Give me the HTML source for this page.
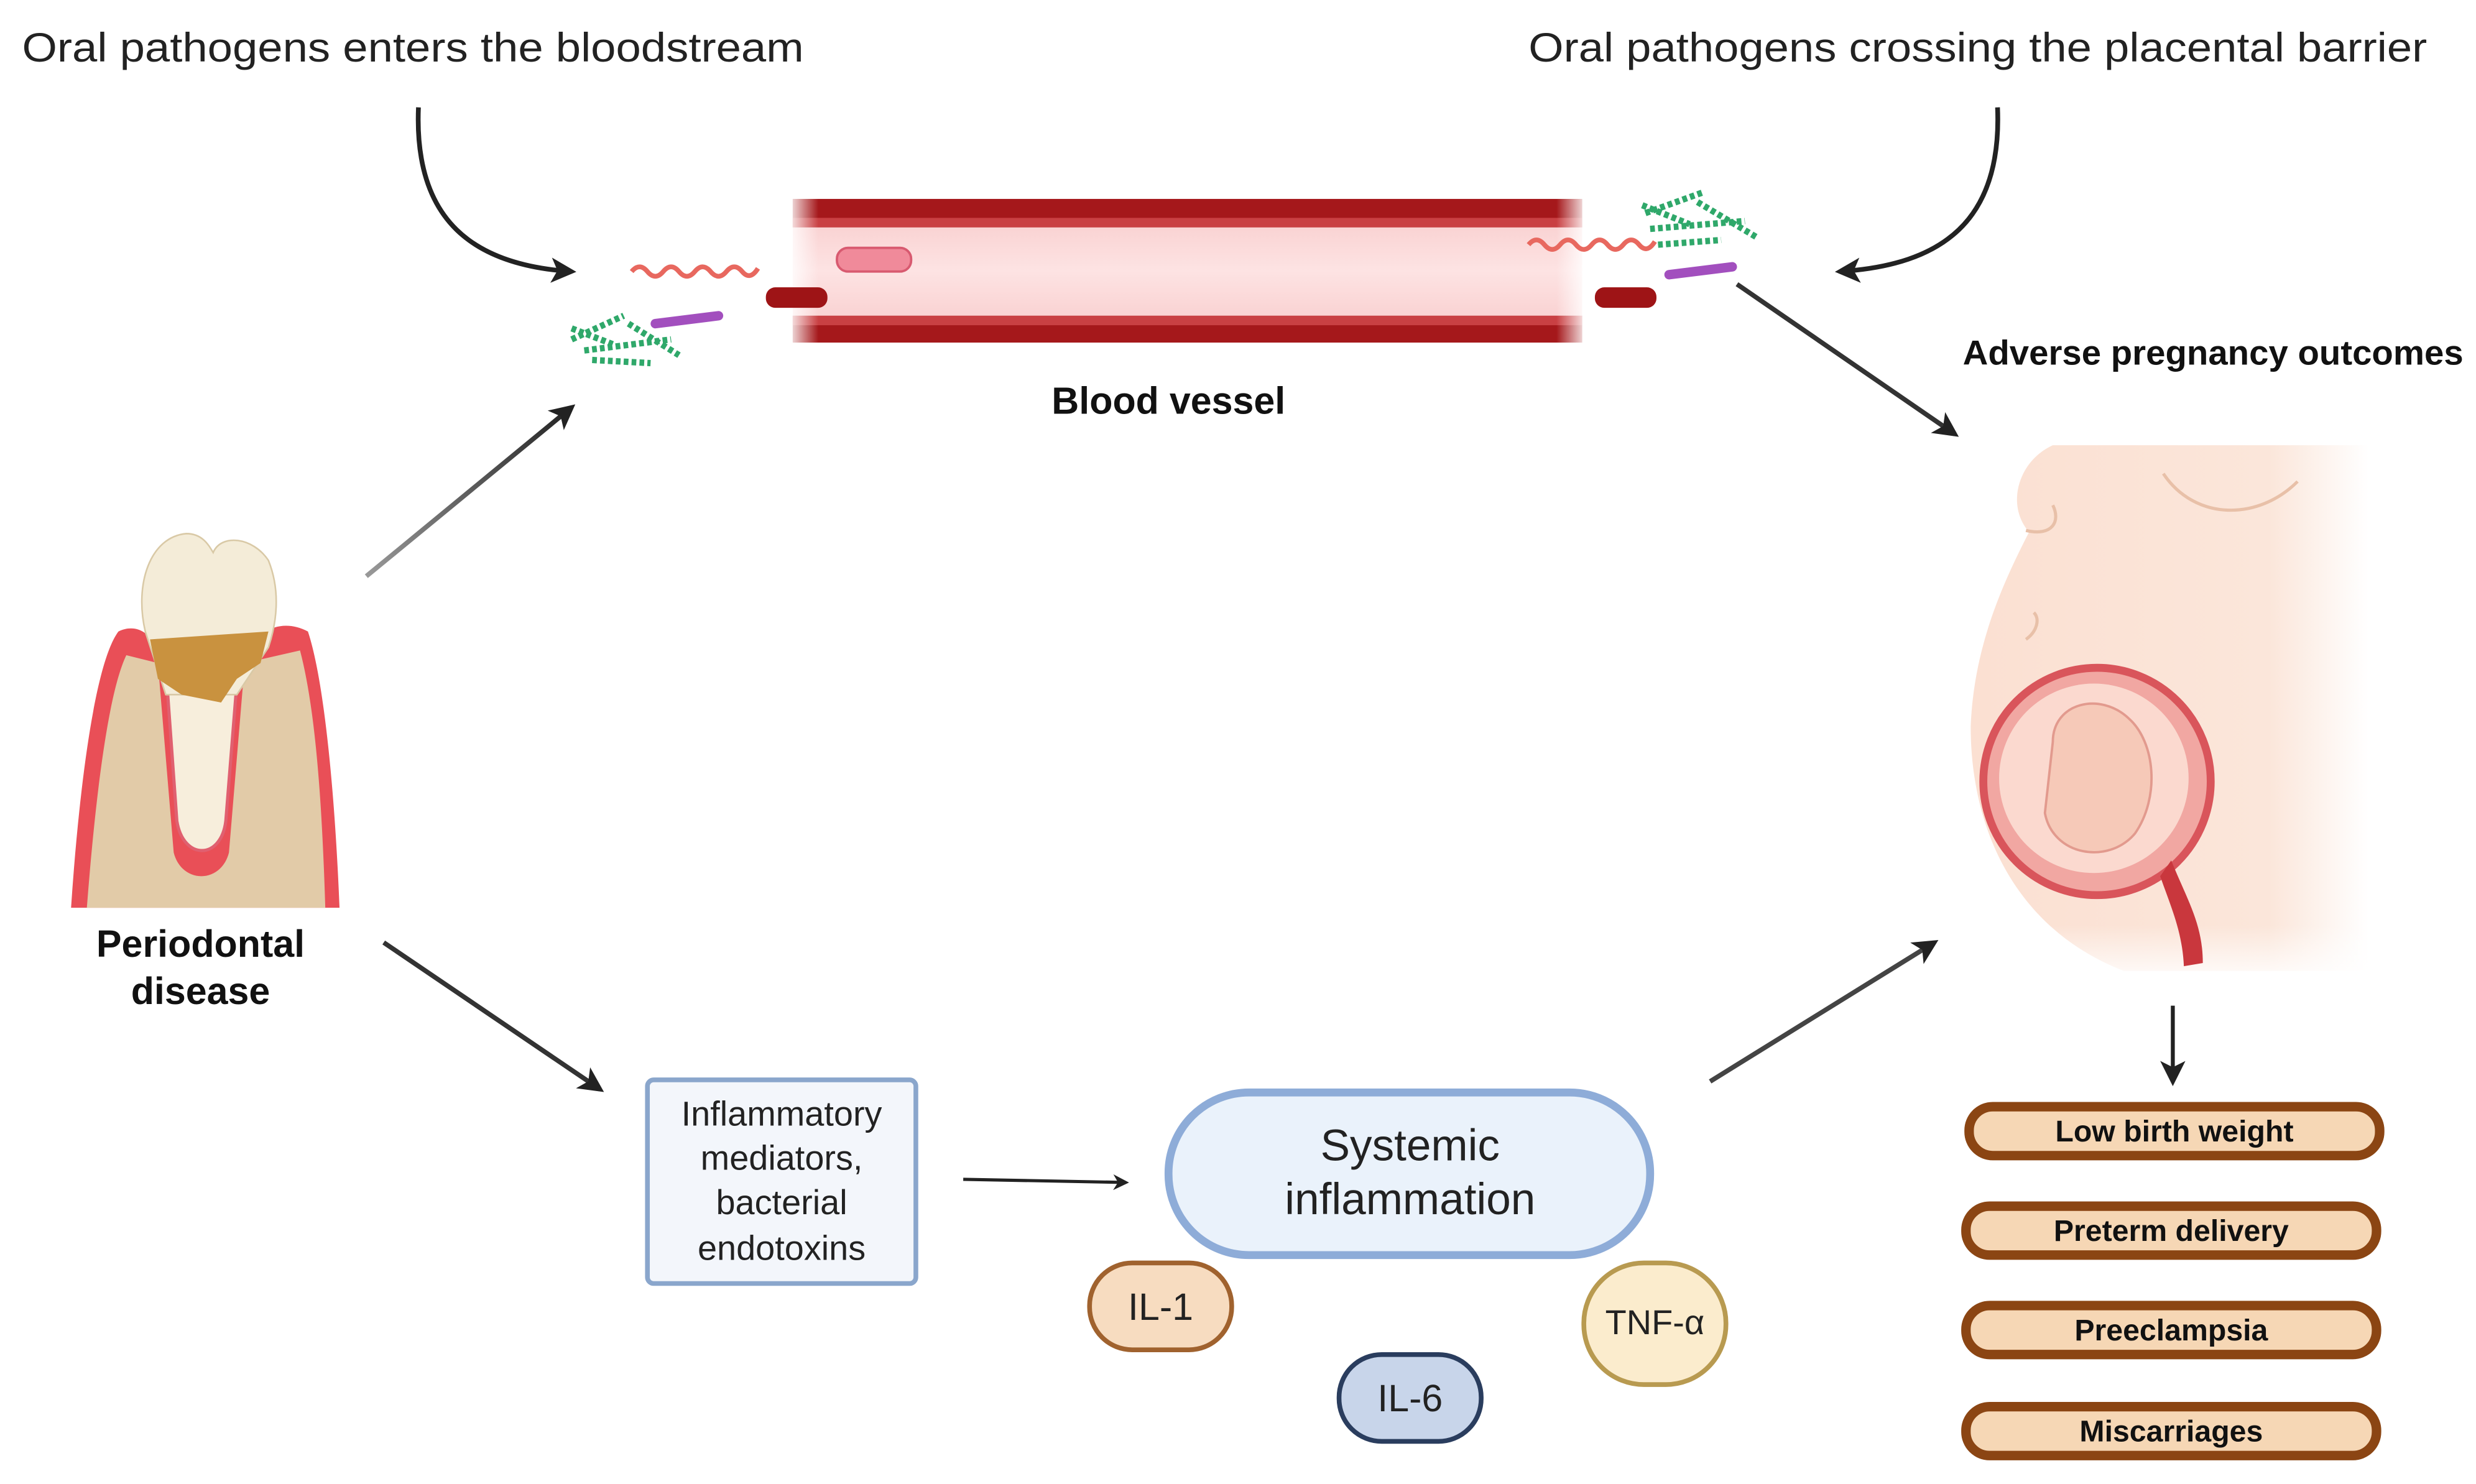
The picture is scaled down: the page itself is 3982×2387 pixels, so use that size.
<!DOCTYPE html>
<html><head><meta charset="utf-8"><style>
html,body{margin:0;padding:0;background:#fff;}
svg{display:block;}
text{font-family:"Liberation Sans",sans-serif;}
</style></head><body>
<svg width="3982" height="2387" viewBox="0 0 1568 940" preserveAspectRatio="none" xmlns="http://www.w3.org/2000/svg">
<defs>
<marker id="ah" markerWidth="10" markerHeight="10" refX="8" refY="5" orient="auto" markerUnits="userSpaceOnUse">
<path d="M0,0 L10,5 L0,10 L3,5 z" fill="#222"/></marker>
<marker id="ah2" markerWidth="16" markerHeight="16" refX="13" refY="8" orient="auto" markerUnits="userSpaceOnUse">
<path d="M0,0 L16,8 L0,16 L4,8 z" fill="#222"/></marker>
<linearGradient id="vfade" x1="0" x2="1">
<stop offset="0" stop-color="#fff" stop-opacity="1"/><stop offset="0.04" stop-color="#fff" stop-opacity="0"/>
<stop offset="0.96" stop-color="#fff" stop-opacity="0"/><stop offset="1" stop-color="#fff" stop-opacity="1"/></linearGradient>
<linearGradient id="vin" x1="0" y1="0" x2="0" y2="1">
<stop offset="0" stop-color="#f8c9c9"/><stop offset="0.5" stop-color="#fde3e3"/><stop offset="1" stop-color="#f8c9c9"/></linearGradient>
<linearGradient id="skin" x1="0" y1="0" x2="1" y2="0">
<stop offset="0" stop-color="#fbe0d2"/><stop offset="0.75" stop-color="#fbe6da"/><stop offset="1" stop-color="#fff"/></linearGradient>
<linearGradient id="skinv" x1="0" y1="0" x2="0" y2="1">
<stop offset="0" stop-color="#fff" stop-opacity="0"/><stop offset="0.9" stop-color="#fff" stop-opacity="0"/><stop offset="1" stop-color="#fff" stop-opacity="0.9"/></linearGradient>
<linearGradient id="ar1" x1="0" y1="1" x2="1" y2="0"><stop offset="0" stop-color="#999"/><stop offset="1" stop-color="#222"/></linearGradient>
</defs>

<text x="14" y="39" font-size="26" fill="#222" textLength="495" lengthAdjust="spacingAndGlyphs">Oral pathogens enters the bloodstream</text>
<text x="968" y="39" font-size="26" fill="#222" textLength="569" lengthAdjust="spacingAndGlyphs">Oral pathogens crossing the placental barrier</text>

<path d="M265,68 C262,140 300,168 362,172" fill="none" stroke="#222" stroke-width="3" marker-end="url(#ah2)"/>
<path d="M1265,68 C1268,140 1230,168 1165,172" fill="none" stroke="#222" stroke-width="3" marker-end="url(#ah2)"/>

<!-- vessel -->
<rect x="502" y="126" width="500" height="91" fill="url(#vin)"/>
<rect x="502" y="126" width="500" height="18" fill="#a5181b"/>
<rect x="502" y="138" width="500" height="6" fill="#c94043"/>
<rect x="502" y="200" width="500" height="17" fill="#a5181b"/>
<rect x="502" y="200" width="500" height="6" fill="#c94043"/>
<rect x="498" y="120" width="508" height="100" fill="url(#vfade)"/>
<rect x="485" y="182" width="39" height="13" rx="6" fill="#9e1416"/>
<rect x="1010" y="182" width="39" height="13" rx="6" fill="#9e1416"/>
<rect x="530" y="157" width="47" height="15" rx="7" fill="#f08a9a" stroke="#d85a70" stroke-width="1.5"/>

<!-- bacteria left -->
<path d="M400,172 q5,-6 10,0 t10,0 t10,0 t10,0 t10,0 t10,0 t10,0 t10,-2" fill="none" stroke="#e8685f" stroke-width="3"/>
<path d="M415,205 L455,200" stroke="#a24fbe" stroke-width="6" stroke-linecap="round"/>
<g stroke="#2fa86a" stroke-width="4" stroke-dasharray="3 2" fill="none">
<path d="M362,215 L395,200"/><path d="M370,222 L425,215"/><path d="M375,228 L412,230"/><path d="M398,205 L430,225"/><path d="M362,208 L388,218"/></g>
<!-- bacteria right -->
<path d="M968,155 q5,-6 10,0 t10,0 t10,0 t10,0 t10,0 t10,0 t10,0 t10,-2" fill="none" stroke="#e8685f" stroke-width="3"/>
<path d="M1057,174 L1097,169" stroke="#a24fbe" stroke-width="6" stroke-linecap="round"/>
<g stroke="#2fa86a" stroke-width="4" stroke-dasharray="3 2" fill="none">
<path d="M1042,135 L1078,122"/><path d="M1045,145 L1105,140"/><path d="M1050,155 L1090,152"/><path d="M1075,128 L1112,150"/><path d="M1040,130 L1070,142"/></g>

<text x="740" y="262" font-size="24" font-weight="bold" text-anchor="middle" fill="#111">Blood vessel</text>
<text x="1243" y="231" font-size="22" font-weight="bold" fill="#111" textLength="317" lengthAdjust="spacingAndGlyphs">Adverse pregnancy outcomes</text>

<!-- arrows -->
<line x1="232" y1="365" x2="362" y2="258" stroke="url(#ar1)" stroke-width="3" marker-end="url(#ah2)"/>
<line x1="1100" y1="180" x2="1238" y2="275" stroke="#333" stroke-width="3" marker-end="url(#ah2)"/>
<line x1="243" y1="597" x2="380" y2="690" stroke="#333" stroke-width="3" marker-end="url(#ah2)"/>
<line x1="1083" y1="685" x2="1225" y2="597" stroke="#444" stroke-width="3" marker-end="url(#ah2)"/>
<line x1="610" y1="747" x2="713" y2="749" stroke="#222" stroke-width="2" marker-end="url(#ah)"/>
<line x1="1376" y1="637" x2="1376" y2="685" stroke="#222" stroke-width="2.5" marker-end="url(#ah2)"/>

<!-- tooth -->
<path d="M45,575 C50,500 60,420 75,400 C85,395 95,400 98,410 L160,410 C165,398 180,392 195,400 C205,430 212,500 215,575 Z" fill="#e94f57"/>
<path d="M55,575 C60,510 68,440 80,415 L100,420 L110,540 C115,560 140,560 145,540 L155,420 L190,412 C200,450 204,510 206,575 Z" fill="#e2cba8"/>
<path d="M103,395 L112,520 C116,545 140,545 143,520 L153,395 Z" fill="#f7eedc" stroke="#e06070" stroke-width="2"/>
<path d="M92,400 C85,370 95,340 118,338 C128,338 132,345 135,350 C140,338 160,340 170,355 C178,375 175,395 170,410 L150,440 L105,440 Z" fill="#f4ecd8" stroke="#d9c9a6" stroke-width="1"/>
<path d="M95,405 L170,400 L165,420 L150,430 L140,445 L115,440 L100,430 Z" fill="#c9923f"/>
<text x="127" y="606" font-size="24" font-weight="bold" text-anchor="middle" fill="#111">Periodontal</text>
<text x="127" y="636" font-size="24" font-weight="bold" text-anchor="middle" fill="#111">disease</text>

<!-- inflammatory box -->
<rect x="410" y="684" width="170" height="129" rx="4" fill="#f3f6fb" stroke="#8aa6cc" stroke-width="3"/>
<g font-size="22" text-anchor="middle" fill="#222">
<text x="495" y="713">Inflammatory</text><text x="495" y="741">mediators,</text>
<text x="495" y="769">bacterial</text><text x="495" y="798">endotoxins</text></g>

<rect x="740" y="692" width="305" height="103" rx="51" fill="#eaf2fb" stroke="#8eacd8" stroke-width="5"/>
<text x="893" y="735" font-size="28" text-anchor="middle" fill="#222">Systemic</text>
<text x="893" y="769" font-size="28" text-anchor="middle" fill="#222">inflammation</text>

<rect x="690" y="800" width="90" height="55" rx="27" fill="#f7dcc0" stroke="#a0622e" stroke-width="3"/>
<text x="735" y="836" font-size="24" text-anchor="middle" fill="#222">IL-1</text>
<rect x="848" y="858" width="90" height="55" rx="27" fill="#c8d5ea" stroke="#2a3d5e" stroke-width="3"/>
<text x="893" y="894" font-size="24" text-anchor="middle" fill="#222">IL-6</text>
<rect x="1003" y="800" width="90" height="77" rx="38" fill="#fbeccd" stroke="#b89a50" stroke-width="3"/>
<text x="1048" y="845" font-size="22" text-anchor="middle" fill="#222">TNF-α</text>

<!-- pregnant figure -->
<path d="M1300,282 L1500,282 L1500,615 L1345,615 C1280,590 1248,530 1248,460 C1250,410 1268,370 1285,337 C1270,320 1278,292 1300,282 Z" fill="url(#skin)"/>
<rect x="1245" y="280" width="260" height="340" fill="url(#skinv)"/>
<path d="M1370,300 C1390,330 1430,330 1455,305" fill="none" stroke="#e8c0a8" stroke-width="2"/>
<path d="M1283,336 C1300,340 1305,330 1300,320" fill="none" stroke="#e8c0a8" stroke-width="2"/>
<path d="M1283,405 C1290,400 1292,392 1288,388" fill="none" stroke="#e8c0a8" stroke-width="2"/>
<ellipse cx="1328" cy="495" rx="72" ry="72" fill="#f1a7a2" stroke="#d9555b" stroke-width="5"/>
<ellipse cx="1326" cy="493" rx="60" ry="60" fill="#fbd9cf"/>
<path d="M1300,470 C1300,445 1330,438 1348,455 C1365,470 1368,505 1352,528 C1335,548 1300,542 1295,515 Z" fill="#f6c9b8" stroke="#e29a8e" stroke-width="1.5"/>
<path d="M1375,545 C1385,570 1395,585 1395,610 L1383,612 C1382,590 1375,575 1368,555 Z" fill="#c9373d"/>

<!-- outcomes -->
<g stroke="#8b4513" stroke-width="6" fill="#f6d7b5">
<rect x="1247" y="701" width="260" height="31" rx="15"/>
<rect x="1245" y="764" width="260" height="31" rx="15"/>
<rect x="1245" y="827" width="260" height="31" rx="15"/>
<rect x="1245" y="891" width="260" height="31" rx="15"/></g>
<g font-size="19" font-weight="bold" text-anchor="middle" fill="#111">
<text x="1377" y="723">Low birth weight</text>
<text x="1375" y="786">Preterm delivery</text>
<text x="1375" y="849">Preeclampsia</text>
<text x="1375" y="913">Miscarriages</text></g>
</svg>
</body></html>
